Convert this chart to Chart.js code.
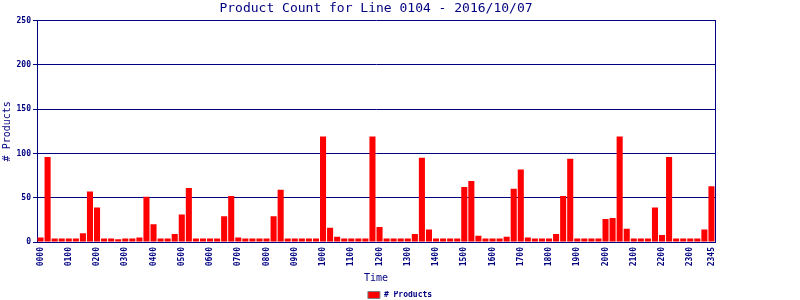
<!DOCTYPE html>
<html>
<head>
<meta charset="utf-8">
<script src="https://cdn.jsdelivr.net/npm/chart.js@4/dist/chart.umd.min.js"></script>
<style>
  html, body { margin: 0; padding: 0; background: #fff; }
  #wrap { width: 800px; height: 300px; position: relative; }
</style>
</head>
<body>
<div id="wrap"><canvas id="c" width="800" height="300"></canvas></div>
<script>
const titleText = "Product Count for Line 0104 - 2016/10/07";
const hours = ["00","01","02","03","04","05","06","07","08","09","10","11","12","13","14","15","16","17","18","19","20","21","22","23"];
const quarters = ["00","15","30","45"];
const categories = [];
hours.forEach(h => quarters.forEach(q => categories.push(h + q)));
const products = [
  5, 96, 4, 4,   4, 4, 10, 57,   39, 4, 4, 3,   4, 4, 5, 51,
  20, 4, 4, 9,   31, 61, 4, 4,   4, 4, 29, 52,  5, 4, 4, 4,
  4, 29, 59, 4,  4, 4, 4, 4,     119, 16, 6, 4, 4, 4, 4, 119,
  17, 4, 4, 4,   4, 9, 95, 14,   4, 4, 4, 4,    62, 69, 7, 4,
  4, 4, 6, 60,   82, 5, 4, 4,    4, 9, 52, 94,  4, 4, 4, 4,
  26, 27, 119, 15, 4, 4, 4, 39,  8, 96, 4, 4,   4, 4, 14, 63
];
const yTicks = [0, 50, 100, 150, 200, 250];

const NAVY = "#000080";
const MONO = "'DejaVu Sans Mono', 'Liberation Mono', monospace";

const legendShift = {
  id: "legendShift",
  afterLayout(chart) {
    const lg = chart.legend;
    if (!lg) return;
    lg.top += 9;
    lg.bottom += 9;
  }
};

new Chart(document.getElementById("c"), {
  type: "bar",
  data: {
    labels: categories,
    datasets: [{
      label: "# Products",
      data: products,
      backgroundColor: "#ff0000",
      borderColor: "#808080",
      borderWidth: 0,
      categoryPercentage: 1.0,
      barPercentage: 0.86
    }]
  },
  plugins: [legendShift],
  options: {
    responsive: false,
    animation: false,
    layout: { padding: { left: 0, right: 0, top: 0, bottom: 0 } },
    plugins: {
      title: {
        display: true,
        text: titleText,
        fullSize: false,
        color: NAVY,
        font: { family: MONO, size: 13, weight: "normal" },
        padding: { top: 1, bottom: 4 }
      },
      legend: {
        display: true,
        position: "bottom",
        labels: {
          color: NAVY,
          font: { family: MONO, size: 8, weight: "bold" },
          boxWidth: 12,
          boxHeight: 7,
          padding: 0,
          generateLabels: (chart) => [{
            text: "# Products",
            fillStyle: "#ff0000",
            strokeStyle: "#808080",
            lineWidth: 1,
            fontColor: NAVY,
            datasetIndex: 0
          }]
        }
      },
      tooltip: { enabled: false }
    },
    scales: {
      x: {
        grid: { display: false, drawTicks: false },
        border: { display: true, color: NAVY, width: 1 },
        ticks: {
          autoSkip: false,
          minRotation: 90,
          maxRotation: 90,
          padding: 5,
          color: NAVY,
          font: { family: MONO, size: 8, weight: "bold" },
          callback: function (v, i) {
            return (i % 4 === 0 || i === categories.length - 1) ? categories[i] : "";
          }
        },
        title: {
          display: true,
          text: "Time",
          color: NAVY,
          font: { family: MONO, size: 10 },
          padding: { top: 4, bottom: -2 }
        },
        afterFit: (s) => { s.height = 40; }
      },
      y: {
        min: 0,
        max: 250,
        afterBuildTicks: (s) => { s.ticks = yTicks.map(v => ({ value: v })); },
        grid: { color: NAVY, lineWidth: 1, drawTicks: true, tickLength: 4, tickColor: NAVY },
        border: { display: true, color: NAVY, width: 1 },
        ticks: {
          color: NAVY,
          padding: 2,
          font: { family: MONO, size: 8, weight: "bold" }
        },
        title: {
          display: true,
          text: "# Products",
          color: NAVY,
          font: { family: MONO, size: 10 },
          padding: { top: 1, bottom: 0 }
        },
        afterFit: (s) => { s.width = 37; }
      },
      y2: {
        position: "right",
        min: 0,
        max: 250,
        grid: { display: false, drawTicks: false },
        border: { display: true, color: NAVY, width: 1 },
        ticks: { display: false },
        afterFit: (s) => { s.width = 85; }
      }
    }
  }
});
</script>
</body>
</html>
